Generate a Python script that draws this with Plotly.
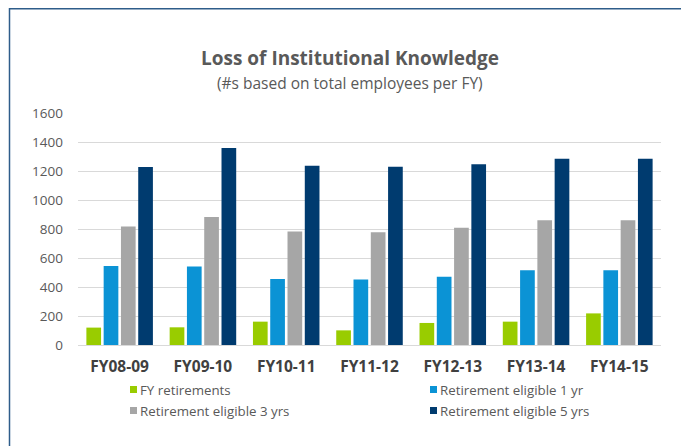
import plotly.graph_objects as go

categories = ["FY08-09", "FY09-10", "FY10-11", "FY11-12", "FY12-13", "FY13-14", "FY14-15"]
fy_retirements = [120, 122, 161, 101, 152, 161, 218]
eligible_1yr = [545, 542, 455, 451, 471, 515, 515]
eligible_3yrs = [818, 883, 782, 777, 809, 860, 860]
eligible_5yrs = [1228, 1359, 1237, 1230, 1246, 1285, 1285]
series_names = ["FY retirements", "Retirement eligible 1 yr", "Retirement eligible 3 yrs", "Retirement eligible 5 yrs"]
series_colors = ["#99cc00", "#0b93d5", "#a6a6a6", "#003b6f"]
y_ticks = [0, 200, 400, 600, 800, 1000, 1200, 1400, 1600]

# the page body has an 8px margin, so figure coords = screen coords - 8
OFF = 8
W, H = 689 - OFF, 446 - OFF
ML, MT = 78 - OFF, 113 - OFF
MR, MB = W - (661 - OFF), H - (345 - OFF)
PW, PH = W - ML - MR, H - MT - MB


def px_x(x):
    # screen x -> paper x
    return (x - OFF - ML) / PW


def px_y(y):
    # screen y -> paper y
    return (H - MB - (y - OFF)) / PH


FONT = "Open Sans"

fig = go.Figure()
all_values = [fy_retirements, eligible_1yr, eligible_3yrs, eligible_5yrs]
for name, vals, col in zip(series_names, all_values, series_colors):
    fig.add_trace(go.Bar(x=categories, y=vals, name=name, marker=dict(color=col, line=dict(width=0))))

# legend drawn as squares + text (2 columns, 2 rows)
legend_cols_px = [130, 430]
legend_rows_px = [389.5, 410.5]
shapes = []
annotations = []
for i, (name, col) in enumerate(zip(series_names, series_colors)):
    lx = legend_cols_px[i % 2]
    ly = legend_rows_px[i // 2]
    shapes.append(dict(type="rect", xref="paper", yref="paper", x0=px_x(lx), x1=px_x(lx + 7),
                       y0=px_y(ly + 3.5), y1=px_y(ly - 3.5), fillcolor=col, line=dict(width=0)))
    annotations.append(dict(text=name, xref="paper", yref="paper", x=px_x(lx + 8), y=px_y(ly),
                            xanchor="left", yanchor="middle", showarrow=False,
                            font=dict(size=13.3, color="#595959", family=FONT)))

annotations += [
    dict(text="<b>Loss of Institutional Knowledge</b>", xref="paper", yref="paper", x=px_x(349.5), y=px_y(58),
         xanchor="center", yanchor="middle", showarrow=False, font=dict(size=19, color="#595959", family=FONT)),
    dict(text="(#s based on total employees per FY)", xref="paper", yref="paper", x=px_x(349.5), y=px_y(83),
         xanchor="center", yanchor="middle", showarrow=False, font=dict(size=15.5, color="#595959", family=FONT)),
]
shapes.append(dict(type="rect", xref="paper", yref="paper", x0=px_x(9.5), x1=px_x(686.5), y0=px_y(8.75), y1=px_y(470),
                   line=dict(color="#2e5d8a", width=1.5), fillcolor="rgba(0,0,0,0)", layer="above"))

fig.update_layout(
    width=W, height=H,
    margin=dict(l=ML, r=MR, t=MT, b=MB, autoexpand=False),
    paper_bgcolor="white", plot_bgcolor="white",
    barmode="group", bargap=0.17, bargroupgap=0.15,
    font=dict(family=FONT, color="#595959"),
    showlegend=False,
    xaxis=dict(type="category", showgrid=False, showline=False, zeroline=False, automargin=False,
               tickfont=dict(size=15.5, color="#404040", family=FONT, weight="bold"), ticklabelstandoff=10),
    yaxis=dict(range=[0, 1600], tickvals=y_ticks, ticktext=[str(v) for v in y_ticks], automargin=False,
               showgrid=True, gridcolor="#d9d9d9", gridwidth=1, zeroline=True, zerolinecolor="#d9d9d9",
               zerolinewidth=1, showline=False, tickfont=dict(size=13.5, color="#595959", family=FONT),
               ticklabelstandoff=14),
    annotations=annotations,
    shapes=shapes,
)

fig.write_html("out.html")
